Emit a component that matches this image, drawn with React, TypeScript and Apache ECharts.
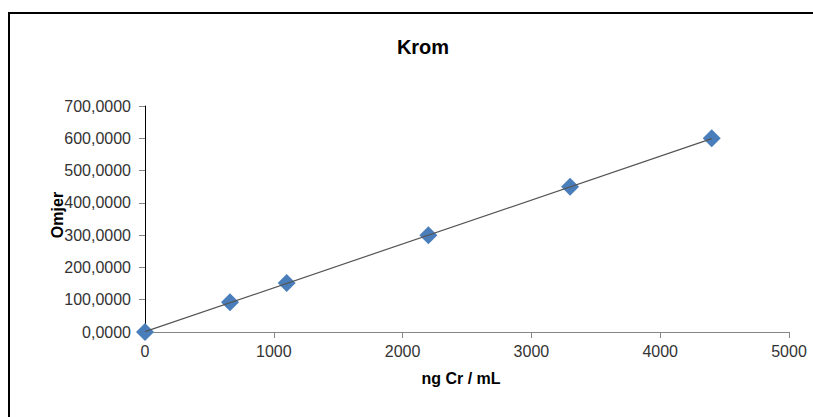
import React, { useEffect, useRef } from "react";
import * as echarts from "echarts";

const concentrations = [0, 660, 1100, 2200, 3300, 4400];
const ratios = [0, 92, 152, 300, 450, 600];
const trendX = [0, 4400];
const trendY = [1, 599];
const yTicks = [0, 100, 200, 300, 400, 500, 600, 700];

export default function App() {
  const ref = useRef<HTMLDivElement>(null);
  useEffect(() => {
    const chart = echarts.init(ref.current!, null, { renderer: "svg" });
    const font = "Liberation Sans, Arial, sans-serif";
    chart.setOption({
      animation: false,
      backgroundColor: "#ffffff",
      textStyle: { fontFamily: font },
      title: {
        text: "Krom",
        left: 418,
        top: 32,
        textAlign: "center",
        textStyle: { fontFamily: font, fontSize: 20, fontWeight: "bold", color: "#000" },
      },
      graphic: [
        {
          type: "rect",
          shape: { x: 9, y: 13, width: 900, height: 500 },
          style: { fill: "none", stroke: "#000", lineWidth: 2 },
          silent: true,
        },
      ],
      grid: { left: 145, right: 24, top: 106, bottom: 85, containLabel: false },
      xAxis: {
        type: "value",
        min: 0,
        max: 5000,
        interval: 1000,
        name: "ng Cr / mL",
        nameLocation: "middle",
        nameGap: 38,
        nameMoveOverlap: false,
        nameTextStyle: { fontFamily: font, fontSize: 16, fontWeight: "bold", color: "#000", padding: [0, 12, 0, 0] },
        axisLine: { show: true, lineStyle: { color: "#868686", width: 1 } },
        axisTick: { show: true, inside: false, length: 6, lineStyle: { color: "#868686" } },
        axisLabel: { fontFamily: font, fontSize: 16, color: "#333", margin: 11, formatter: (v: number) => String(v) },
        splitLine: { show: false },
      },
      yAxis: {
        type: "value",
        min: 0,
        max: 700,
        interval: 100,
        name: "Omjer",
        nameLocation: "middle",
        nameGap: 80,
        nameMoveOverlap: false,
        nameRotate: 90,
        nameTextStyle: { fontFamily: font, fontSize: 16, fontWeight: "bold", color: "#000", padding: [0, 0, 0, 8] },
        axisLine: { show: true, lineStyle: { color: "#000", width: 1 } },
        axisTick: { show: true, inside: false, length: 6, lineStyle: { color: "#868686" } },
        axisLabel: {
          fontFamily: font,
          fontSize: 16,
          color: "#333",
          margin: 14,
          formatter: (v: number) => (yTicks.includes(v) ? v.toFixed(4).replace(".", ",") : ""),
        },
        splitLine: { show: false },
      },
      series: [
        {
          type: "line",
          data: trendX.map((x, i) => [x, trendY[i]]),
          showSymbol: false,
          symbol: "none",
          lineStyle: { color: "#555", width: 1.2 },
          z: 3,
        },
        {
          type: "scatter",
          data: concentrations.map((x, i) => [x, ratios[i]]),
          symbol: "diamond",
          symbolSize: [18, 18],
          itemStyle: { color: "#4a7ebb", opacity: 1 },
          z: 2,
        },
      ],
    });
    return () => chart.dispose();
  }, []);
  return (
    <div
      ref={ref}
      style={{ position: "fixed", left: 0, top: 0, width: 813, height: 417, background: "#fff" }}
    />
  );
}
